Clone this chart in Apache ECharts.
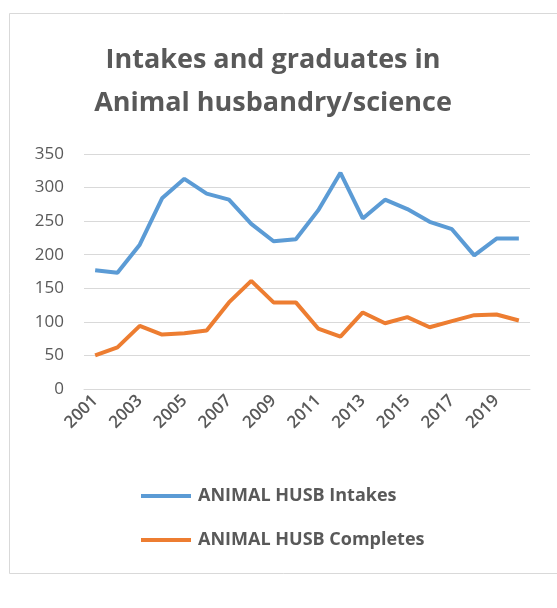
<!DOCTYPE html>
<html>
<head>
<meta charset="utf-8">
<script src="https://cdn.jsdelivr.net/npm/echarts@6/dist/echarts.min.js"></script>
<style>
  html, body { margin: 0; padding: 0; background: #fff; }
  #main { width: 557px; height: 608px; }
</style>
</head>
<body>
<div id="main"></div>
<script>
// years on the x axis
var years = ['2001', '2002', '2003', '2004', '2005', '2006', '2007', '2008', '2009', '2010',
             '2011', '2012', '2013', '2014', '2015', '2016', '2017', '2018', '2019', '2020'];

// values
var intakes = [177, 173, 215, 284, 313, 291, 282, 246, 220, 223,
               266, 322, 254, 282, 268, 249, 238, 199, 224, 224];
var completes = [50, 62, 94, 81, 83, 87, 129, 161, 129, 129,
                 90, 78, 114, 98, 107, 92, 101, 110, 111, 102];

var titleLines = ['Intakes and graduates in', 'Animal husbandry/science'];
var seriesNames = ['ANIMAL HUSB Intakes', 'ANIMAL HUSB Completes'];

var myChart = echarts.init(document.getElementById('main'));
var textGray = '#595959';

var option = {
    backgroundColor: '#fff',
    animation: false,
    title: {
        text: titleLines.join('\n'),
        left: 268,
        textAlign: 'center',
        top: 34,
        textStyle: {
            fontFamily: 'Open Sans',
            fontSize: 27,
            fontWeight: 'bold',
            color: textGray,
            lineHeight: 43
        }
    },
    graphic: [
        {
            type: 'rect',
            shape: { x: 9.5, y: 13.5, width: 560, height: 560 },
            style: { fill: 'none', stroke: '#d9d9d9', lineWidth: 1 },
            silent: true
        }
    ],
    legend: {
        orient: 'vertical',
        left: 136,
        top: 482,
        itemWidth: 50,
        itemHeight: 4,
        itemGap: 26,
        icon: 'rect',
        textStyle: {
            fontFamily: 'Open Sans',
            fontSize: 18,
            fontWeight: 'bold',
            color: textGray,
            padding: [0, 0, 0, 2]
        },
        data: seriesNames
    },
    grid: {
        left: 84,
        right: 27,
        top: 154,
        bottom: 219
    },
    xAxis: {
        type: 'category',
        data: years,
        boundaryGap: true,
        axisLine: { lineStyle: { color: '#d9d9d9', width: 1 } },
        axisTick: { show: false },
        axisLabel: {
            interval: 1,
            rotate: 45,
            margin: 9,
            fontFamily: 'Open Sans',
            fontSize: 17,
            fontWeight: 600,
            color: textGray
        }
    },
    yAxis: {
        type: 'value',
        min: 0,
        max: 350,
        interval: 50,
        axisLine: { show: false },
        axisTick: { show: false },
        splitLine: { lineStyle: { color: '#d9d9d9', width: 1 } },
        axisLabel: {
            margin: 20,
            fontFamily: 'Open Sans',
            fontSize: 17,
            color: textGray
        }
    },
    series: [
        {
            name: seriesNames[0],
            type: 'line',
            data: intakes,
            symbol: 'none',
            lineStyle: { width: 4, color: '#5b9bd5' },
            itemStyle: { color: '#5b9bd5' }
        },
        {
            name: seriesNames[1],
            type: 'line',
            data: completes,
            symbol: 'none',
            lineStyle: { width: 4, color: '#ed7d31' },
            itemStyle: { color: '#ed7d31' }
        }
    ]
};

myChart.setOption(option, true);
window.onresize = myChart.resize;
</script>
</body>
</html>
